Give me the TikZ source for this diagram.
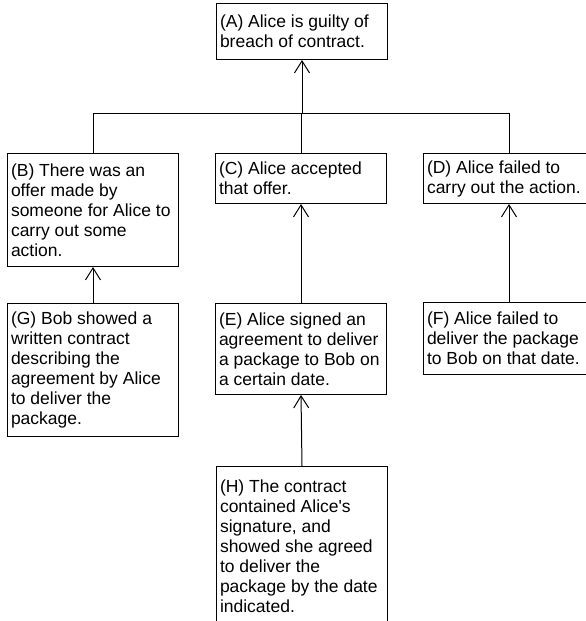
\documentclass[tikz,border=0pt]{standalone}
\usepackage{fontspec}
\setmainfont{Liberation Sans}
\usetikzlibrary{arrows.meta}

\begin{document}
\begin{tikzpicture}[x=1pt,y=-1pt,line width=1pt,
    claim/.style={draw,anchor=north west,align=flush left,text width=164pt,
      inner xsep=3.5pt,inner ysep=0pt,font={\fontsize{17.5}{20}\selectfont}},
    support/.style={-{Straight Barb[length=12pt,width=15pt]}}]
  \useasboundingbox (0,0) rectangle (586,621);
  \clip (0,0) rectangle (586,621);
  \node[claim,minimum height=56pt] (a) at (216,3) {(A) Alice is guilty of\\breach of contract.};
  \node[claim,minimum height=113pt] (b) at (7,153) {(B) There was an\\offer made by\\someone for Alice to\\carry out some\\action.};
  \node[claim,minimum height=50pt] (c) at (215,153) {(C) Alice accepted\\that offer.};
  \node[claim,minimum height=50pt] (d) at (423,153) {(D) Alice failed to\\carry out the action.};
  \node[claim,minimum height=133pt] (g) at (7,303) {(G) Bob showed a\\written contract\\describing the\\agreement by Alice\\to deliver the\\package.};
  \node[claim,minimum height=91pt] (e) at (215,303) {(E) Alice signed an\\agreement to deliver\\a package to Bob on\\a certain date.};
  \node[claim,minimum height=72pt] (f) at (423,302) {(F) Alice failed to\\deliver the package\\to Bob on that date.};
  \node[claim,minimum height=160pt] (h) at (216,466) {(H) The contract\\contained Alice\textquotesingle s\\signature, and\\showed she agreed\\to deliver the\\package by the date\\indicated.};
  \coordinate (bar) at (0,113);
  \draw (b.north) |- (bar -| d.north) -- (d.north);
  \draw (c.north) -- (c.north |- bar);
  \draw[support] (a.south |- bar) -- (a.south);
  \draw[support] (g.north) -- (b.south);
  \draw[support] (e.north) -- (c.south);
  \draw[support] (f.north) -- (d.south);
  \draw[support] (h.north) -- (e.south);
\end{tikzpicture}
\end{document}
